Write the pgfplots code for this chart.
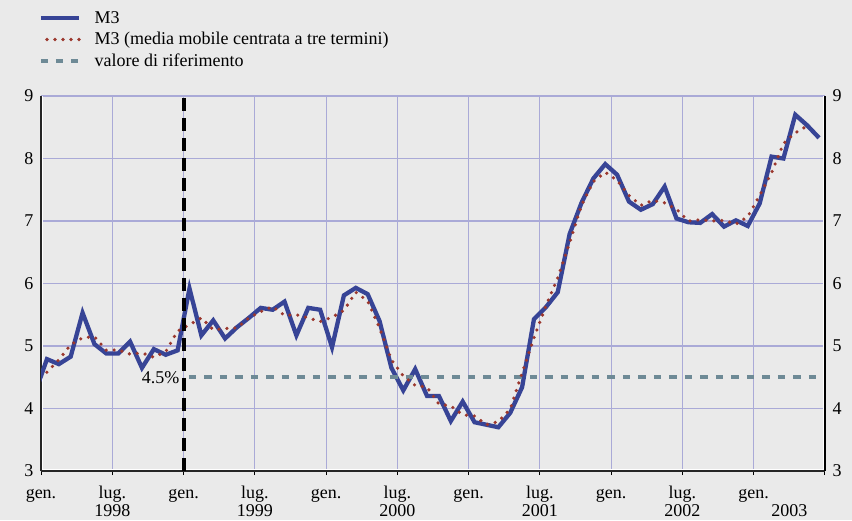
\documentclass[border=0pt]{standalone}
\usepackage{fontspec}
\setmainfont{Liberation Serif}
\usepackage{pgfplots}
\pgfplotsset{compat=1.18}
\definecolor{bg}{RGB}{234,234,234}
\definecolor{gridc}{RGB}{170,170,215}
\definecolor{m3c}{RGB}{55,68,150}
\definecolor{mac}{RGB}{155,55,45}
\definecolor{refc}{RGB}{110,138,150}
\newcommand{\lfont}{\fontsize{18}{20}\selectfont}
\begin{document}
\begin{tikzpicture}[x=1pt,y=1pt]
\fill[bg] (0,0) rectangle (852,520);
\begin{axis}[
  at={(41pt,49pt)}, anchor=south west,
  width=784pt, height=375pt, scale only axis,
  xmin=0, xmax=66, ymin=3, ymax=9,
  axis x line*=bottom, axis y line*=left,
  axis line style={line width=1.2pt, black!85},
  xtick={0,6,...,66},
  xticklabels={gen.,lug.,gen.,lug.,gen.,lug.,gen.,lug.,gen.,lug.,gen.,{}},
  extra x ticks={6,18,30,42,54,63},
  extra x tick labels={1998,1999,2000,2001,2002,2003},
  extra x tick style={grid=none, major tick length=0pt, xticklabel style={yshift=-22pt}},
  ytick={3,...,9},
  grid=major,
  major grid style={gridc, line width=1.1pt},
  tick align=outside,
  major tick length=4pt,
  xtick style={black, line width=1pt},
  ytick style={draw=none},
  /pgf/number format/assume math mode=true,
  tick label style={font=\lfont},
  xticklabel style={anchor=base, yshift=-23pt},
  legend style={at={(axis description cs:-0.003,1.2297)}, anchor=north west,
    draw=none, fill=none, font=\lfont, row sep=4.5pt, inner sep=0pt,
    column sep=12pt, nodes={inner sep=1.5pt}},
  legend cell align=left,
  legend image code/.code={\draw[#1] (0pt,0pt) -- (38pt,0pt);},
]
\draw[white, line width=1.1pt] ([xshift=1.8pt]rel axis cs:0,1) -- ([xshift=1.8pt,yshift=1.8pt]rel axis cs:0,0) -- ([xshift=-1.8pt,yshift=1.8pt]rel axis cs:1,0) -- ([xshift=-1.8pt]rel axis cs:1,1);
\addlegendimage{m3c, line width=4.3pt}
\addlegendentry{M3}
\addlegendimage{mac, line width=3.6pt, line cap=round, dash pattern=on 0pt off 8pt, dash phase=2pt}
\addlegendentry{M3 (media mobile centrata a tre termini)}
\addlegendimage{refc, line width=4pt, dash pattern=on 7.5pt off 7.5pt}
\addlegendentry{valore di riferimento}

\addplot[m3c, line width=4.3pt, forget plot] coordinates {
(-0.5,4.25) (0.5,4.79) (1.5,4.71) (2.5,4.83) (3.5,5.53) (4.5,5.03) (5.5,4.88) (6.5,4.88) (7.5,5.07) (8.5,4.65) (9.5,4.95) (10.5,4.86) (11.5,4.93) (12.5,5.92) (13.5,5.17) (14.5,5.41) (15.5,5.12) (16.5,5.30) (17.5,5.45) (18.5,5.61) (19.5,5.58) (20.5,5.71) (21.5,5.17) (22.5,5.61) (23.5,5.58) (24.5,4.98) (25.5,5.81) (26.5,5.93) (27.5,5.83) (28.5,5.40) (29.5,4.65) (30.5,4.29) (31.5,4.63) (32.5,4.20) (33.5,4.20) (34.5,3.80) (35.5,4.11) (36.5,3.78) (37.5,3.74) (38.5,3.70) (39.5,3.93) (40.5,4.34) (41.5,5.43) (42.5,5.62) (43.5,5.86) (44.5,6.79) (45.5,7.29) (46.5,7.68) (47.5,7.91) (48.5,7.74) (49.5,7.31) (50.5,7.18) (51.5,7.27) (52.5,7.55) (53.5,7.04) (54.5,6.98) (55.5,6.97) (56.5,7.11) (57.5,6.91) (58.5,7.01) (59.5,6.92) (60.5,7.28) (61.5,8.03) (62.5,8.00) (63.5,8.70) (64.5,8.53) (65.5,8.33)
};
\addplot[refc, line width=4pt, dash pattern=on 7.5pt off 8pt, dash phase=10.2pt, forget plot] coordinates {(12,4.5) (66,4.5)};
\addplot[mac, line width=3.6pt, line cap=round, dash pattern=on 0pt off 8pt, forget plot] coordinates {
(0.5,4.58) (1.5,4.78) (2.5,5.02) (3.5,5.13) (4.5,5.15) (5.5,4.93) (6.5,4.94) (7.5,4.87) (8.5,4.89) (9.5,4.82) (10.5,4.91) (11.5,5.24) (12.5,5.34) (13.5,5.45) (14.5,5.26) (15.5,5.28) (16.5,5.29) (17.5,5.45) (18.5,5.55) (19.5,5.63) (20.5,5.49) (21.5,5.50) (22.5,5.45) (23.5,5.39) (24.5,5.46) (25.5,5.57) (26.5,5.86) (27.5,5.72) (28.5,5.29) (29.5,4.78) (30.5,4.52) (31.5,4.37) (32.5,4.34) (33.5,4.07) (34.5,4.04) (35.5,3.90) (36.5,3.88) (37.5,3.74) (38.5,3.79) (39.5,3.99) (40.5,4.57) (41.5,5.13) (42.5,5.64) (43.5,6.09) (44.5,6.65) (45.5,7.25) (46.5,7.63) (47.5,7.78) (48.5,7.65) (49.5,7.41) (50.5,7.25) (51.5,7.33) (52.5,7.29) (53.5,7.19) (54.5,7.00) (55.5,7.02) (56.5,7.00) (57.5,7.01) (58.5,6.95) (59.5,7.07) (60.5,7.41) (61.5,7.77) (62.5,8.24) (63.5,8.41) (64.5,8.52)
};
\addplot[black, line width=4pt, dash pattern=on 13pt off 7pt, forget plot] coordinates {(12,3) (12,9)};
\node[anchor=east, font=\lfont, inner sep=0pt, xshift=-4pt] at (axis cs:12,4.5) {4.5\%};
\end{axis}
\begin{axis}[
  at={(41pt,49pt)}, anchor=south west,
  width=784pt, height=375pt, scale only axis,
  xmin=0, xmax=66, ymin=3, ymax=9,
  axis x line=none, axis y line*=right,
  axis line style={line width=1.2pt, black},
  ytick={3,...,9},
  tick align=outside, major tick length=4pt,
  ytick style={draw=none},
  /pgf/number format/assume math mode=true,
  tick label style={font=\lfont},
]
\end{axis}
\pgfresetboundingbox
\useasboundingbox (0,0) rectangle (852,520);
\end{tikzpicture}
\end{document}
